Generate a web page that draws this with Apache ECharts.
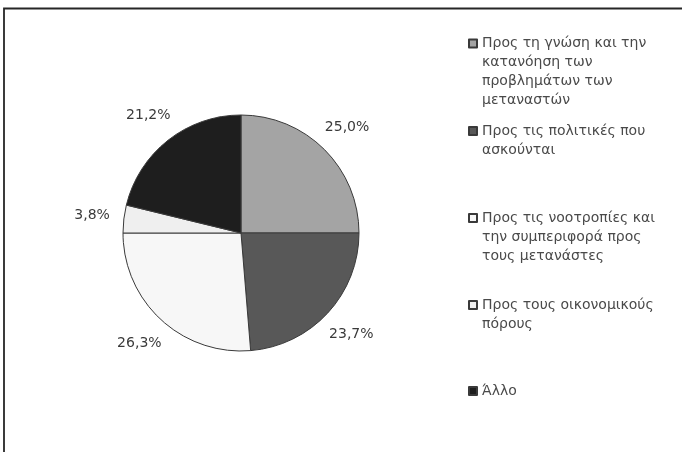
<!DOCTYPE html>
<html>
<head>
<meta charset="utf-8">
<script src="https://cdn.jsdelivr.net/npm/echarts@6/dist/echarts.min.js"></script>
<style>
  html, body { margin: 0; padding: 0; background: #fff; }
  #chart { width: 682px; height: 452px; }
</style>
</head>
<body>
<div id="chart"></div>
<script>
// Answer categories (legend text, wrapped as printed)
const categories = [
  'Προς τη γνώση και την\nκατανόηση των\nπροβλημάτων των\nμεταναστών',
  'Προς τις πολιτικές που\nασκούνται',
  'Προς τις νοοτροπίες και\nτην συμπεριφορά προς\nτους μετανάστες',
  'Προς τους οικονομικούς\nπόρους',
  'Άλλο'
];
// Share of responses (%)
const shares = [25.0, 23.7, 26.3, 3.8, 21.2];
// Greyscale fills for each slice
const fills = ['#a4a4a4', '#585858', '#f7f7f7', '#efefef', '#1e1e1e'];
// Vertical centre of each legend entry's first line
const legendRows = [42.5, 130, 217, 304, 390];

const LINE = 19;
const BOX = 8;
const FONT = 'DejaVu Sans';

const fmt = v => v.toFixed(1).replace('.', ',') + '%';

const pieData = categories.map((name, i) => ({
  name,
  value: shares[i],
  itemStyle: { color: fills[i] }
}));

// Legend swatch sits beside the first text line: the path spans the whole
// text block height, with the square drawn only at the top.
function swatchPath(lines) {
  const h = lines * LINE;
  const y0 = LINE / 2 - BOX / 2;
  return 'path://M0,0M0,' + y0 + 'H' + BOX + 'V' + (y0 + BOX) + 'H0Z' +
         'M' + BOX + ',' + h;
}

const legends = categories.map((name, i) => {
  const lines = name.split('\n').length;
  return {
    orient: 'vertical',
    left: 468,
    top: legendRows[i] - LINE / 2,
    padding: 0,
    itemWidth: BOX,
    itemHeight: lines * LINE,
    icon: swatchPath(lines),
    selectedMode: false,
    data: [name],
    textStyle: {
      fontFamily: FONT,
      fontSize: 14,
      color: '#4a4a4a',
      lineHeight: LINE
    }
  };
});

const chart = echarts.init(document.getElementById('chart'), null, { renderer: 'canvas' });
chart.setOption({
  backgroundColor: '#ffffff',
  animation: false,
  legend: legends,
  graphic: [{
    type: 'rect',
    silent: true,
    shape: { x: 4, y: 8.5, width: 760, height: 520 },
    style: { fill: 'none', stroke: '#262626', lineWidth: 1.8 }
  }],
  series: [
    {
      type: 'pie',
      center: [241, 233],
      radius: 118,
      startAngle: 90,
      clockwise: true,
      silent: true,
      label: { show: false },
      labelLine: { show: false },
      itemStyle: { borderColor: '#3a3a3a', borderWidth: 1 },
      data: pieData
    },
    {
      // transparent ring carrying the percentage labels just outside the pie
      type: 'pie',
      center: [241, 233],
      radius: [118, 176],
      startAngle: 90,
      clockwise: true,
      silent: true,
      z: 3,
      itemStyle: { color: 'rgba(0,0,0,0)', borderWidth: 0 },
      label: {
        show: true,
        position: 'inside',
        rotate: 0,
        fontFamily: FONT,
        fontSize: 14,
        color: '#3a3a3a',
        formatter: p => fmt(p.value)
      },
      labelLine: { show: false },
      emphasis: { disabled: true },
      data: categories.map((name, i) => ({ name, value: shares[i] }))
    }
  ]
});
</script>
</body>
</html>
